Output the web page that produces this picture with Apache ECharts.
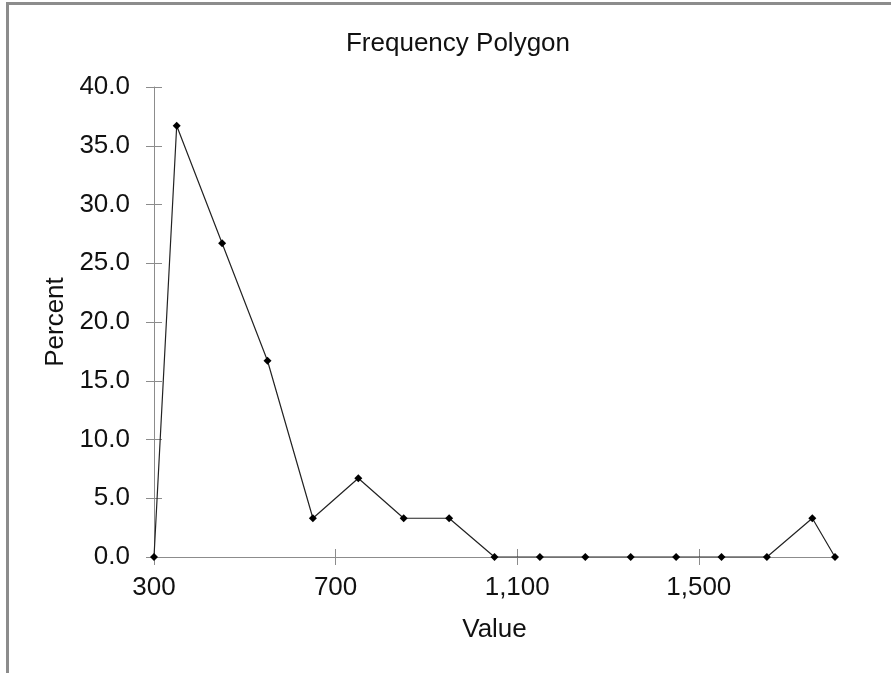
<!DOCTYPE html>
<html>
<head>
<meta charset="utf-8">
<script src="https://cdn.jsdelivr.net/npm/echarts@6/dist/echarts.min.js"></script>
<style>
html,body{margin:0;padding:0;background:#fff;}
#chart{position:absolute;left:0;top:0;width:891px;height:673px;}
#frame{position:absolute;left:6px;top:2px;width:885px;height:671px;border-top:3px solid #8c8c8c;border-left:3px solid #8c8c8c;box-sizing:border-box;pointer-events:none;}
</style>
</head>
<body>
<div id="chart"></div>
<div id="frame"></div>
<script>
const xValues = [300, 350, 450, 550, 650, 750, 850, 950, 1050, 1150, 1250, 1350, 1450, 1550, 1650, 1750, 1800];
const percentValues = [0, 36.7, 26.7, 16.7, 3.3, 6.7, 3.3, 3.3, 0, 0, 0, 0, 0, 0, 0, 3.3, 0];
const xTicks = [300, 700, 1100, 1500];
const yTicks = [0, 5, 10, 15, 20, 25, 30, 35, 40];

const FONT = 'Liberation Sans, Arial, sans-serif';
const FS = 26;
const AX = '#8c8c8c';
const chart = echarts.init(document.getElementById('chart'));

function xAxisDef(inside, showLabel) {
  return {
    type: 'value', position: 'bottom', min: 300, max: 1800, gridIndex: 0,
    axisLine: { show: !inside, onZero: false, lineStyle: { color: AX, width: 1 } },
    axisTick: { show: true, inside: inside, length: 8, customValues: xTicks, lineStyle: { color: AX, width: 1 } },
    axisLabel: { show: showLabel, customValues: xTicks, margin: 18, color: '#111', fontSize: FS, fontFamily: FONT,
      formatter: v => Number(v).toLocaleString('en-US') },
    splitLine: { show: false },
    name: showLabel ? 'Value' : '', nameLocation: 'middle', nameGap: 60,
    nameTextStyle: { color: '#111', fontSize: FS, fontFamily: FONT }
  };
}
function yAxisDef(inside, showLabel) {
  return {
    type: 'value', position: 'left', min: 0, max: 40, gridIndex: 0,
    axisLine: { show: !inside, onZero: false, lineStyle: { color: AX, width: 1 } },
    axisTick: { show: true, inside: inside, length: 8, customValues: yTicks, lineStyle: { color: AX, width: 1 } },
    axisLabel: { show: showLabel, customValues: yTicks, margin: 24, color: '#111', fontSize: FS, fontFamily: FONT,
      formatter: v => Number(v).toFixed(1) },
    splitLine: { show: false },
    name: showLabel ? 'Percent' : '', nameLocation: 'middle', nameGap: 85,
    nameTextStyle: { color: '#111', fontSize: FS, fontFamily: FONT }
  };
}

chart.setOption({
  animation: false,
  backgroundColor: '#fff',
  title: {
    text: 'Frequency Polygon', left: 453, top: 26, textAlign: 'center',
    textStyle: { color: '#111', fontSize: FS, fontWeight: 'normal', fontFamily: FONT }
  },
  grid: { left: 154, top: 87, right: 56, bottom: 116, containLabel: false },
  xAxis: [xAxisDef(false, true), xAxisDef(true, false)],
  yAxis: [yAxisDef(false, true), yAxisDef(true, false)],
  series: [{
    type: 'line', xAxisIndex: 0, yAxisIndex: 0,
    data: xValues.map((x, i) => [x, percentValues[i]]),
    symbol: 'diamond', symbolSize: 8, showAllSymbol: true,
    lineStyle: { color: '#222', width: 1.2 },
    itemStyle: { color: '#000' }
  }]
});
</script>
</body>
</html>
